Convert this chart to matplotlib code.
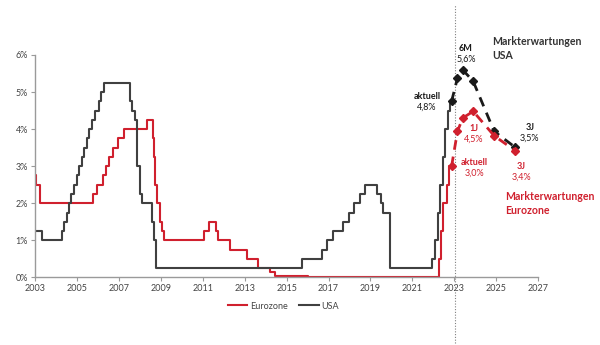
import matplotlib
matplotlib.use("Agg")
import matplotlib.pyplot as plt
from matplotlib.lines import Line2D

plt.rcParams["font.family"] = ["Lato", "DejaVu Sans"]

# Leitzinsen (Stufen), Jahr als Dezimalzahl
usa_jahre = [2003.0, 2003.32, 2004.31, 2004.40, 2004.51, 2004.62, 2004.72, 2004.86,
             2004.99, 2005.12, 2005.23, 2005.36, 2005.47, 2005.60, 2005.72, 2005.87,
             2006.03, 2006.16, 2006.31, 2007.54, 2007.65, 2007.75, 2007.86, 2007.99,
             2008.10, 2008.57, 2008.66, 2008.75, 2015.72, 2016.70, 2016.94, 2017.21,
             2017.71, 2017.98, 2018.22, 2018.49, 2018.73, 2019.33, 2019.49, 2019.60,
             2019.94, 2021.93, 2022.09, 2022.20, 2022.31, 2022.44, 2022.55, 2022.68,
             2022.78, 2022.87]
usa_zins = [1.25, 1.0, 1.25, 1.5, 1.75, 2.0, 2.25, 2.5,
            2.75, 3.0, 3.25, 3.5, 3.75, 4.0, 4.25, 4.5,
            4.75, 5.0, 5.25, 4.75, 4.5, 4.25, 3.0, 2.25,
            2.0, 1.5, 1.0, 0.25, 0.5, 0.75, 1.0, 1.25,
            1.5, 1.75, 2.0, 2.25, 2.5, 2.25, 2.0, 1.75,
            0.25, 0.5, 1.0, 1.75, 2.5, 3.25, 4.0, 4.5,
            4.75, 4.75]

ez_jahre = [2003.0, 2003.04, 2003.24, 2005.76, 2005.98, 2006.23, 2006.39, 2006.55,
            2006.74, 2006.98, 2007.26, 2008.34, 2008.61, 2008.67, 2008.74, 2008.83,
            2008.98, 2009.04, 2009.13, 2011.05, 2011.32, 2011.65, 2011.73, 2012.29,
            2013.12, 2013.63, 2014.22, 2014.46, 2016.0, 2022.25, 2022.36, 2022.47,
            2022.63, 2022.76, 2022.87]
ez_zins = [2.75, 2.5, 2.0, 2.25, 2.5, 2.75, 3.0, 3.25,
           3.5, 3.75, 4.0, 4.25, 3.75, 3.25, 2.5, 2.0,
           1.5, 1.25, 1.0, 1.25, 1.5, 1.25, 1.0, 0.75,
           0.5, 0.25, 0.15, 0.05, 0.0, 0.5, 1.25, 2.0,
           2.5, 3.0, 3.0]

# Markterwartungen: aktuell, 3M, 6M, 1J, 2J, 3J
prognose_jahre = [2022.87, 2023.15, 2023.4, 2023.9, 2024.9, 2025.9]
usa_prognose = [4.75, 5.38, 5.60, 5.29, 3.94, 3.51]
ez_prognose = [3.0, 3.94, 4.30, 4.48, 3.82, 3.42]

x_ticks = list(range(2003, 2028, 2))
y_ticks = [0, 1, 2, 3, 4, 5, 6]
y_labels = ["0%", "1%", "2%", "3%", "4%", "5%", "6%"]

ROT = "#d0202e"
GRAU = "#404040"
SCHWARZ = "#1a1a1a"
ACHSE = "#9a9a9a"

fig = plt.figure(figsize=(6, 3.45), dpi=100)
ax = fig.add_axes([0.0583, 0.196, 0.8387, 0.6446])

ax.plot(ez_jahre, ez_zins, drawstyle="steps-post", color=ROT, lw=1.5)
ax.plot(usa_jahre, usa_zins, drawstyle="steps-post", color=GRAU, lw=1.5)

ax.plot(prognose_jahre, usa_prognose, color=SCHWARZ, lw=2.0, dashes=(3.5, 2.5),
        marker="D", ms=4.5, zorder=4)
ax.plot(prognose_jahre, ez_prognose, color=ROT, lw=2.0, dashes=(3.5, 2.5),
        marker="D", ms=4.5, zorder=4)

ax.axvline(2023.03, ymin=-0.296, ymax=1.225, color="#808080", lw=0.8,
           ls=(0, (1, 1.5)), clip_on=False)

ax.set_xlim(2003, 2027)
ax.set_ylim(0, 6)
ax.set_xticks(x_ticks)
ax.set_yticks(y_ticks)
ax.set_yticklabels(y_labels)
ax.tick_params(labelsize=6.5, colors=ACHSE, labelcolor="#444444", length=3, width=0.8, pad=2)
for s in ["top", "right"]:
    ax.spines[s].set_visible(False)
for s in ["left", "bottom"]:
    ax.spines[s].set_color(ACHSE)
    ax.spines[s].set_linewidth(1.0)


def beschriftung(x, y, kopf, wert, farbe, ha="center"):
    ax.text(x, y, kopf, ha=ha, va="top", fontsize=6.5, fontweight="bold", color=farbe)
    ax.text(x, y - 0.28, wert, ha=ha, va="top", fontsize=6.5, color=farbe)


beschriftung(2023.55, 6.3, "6M", "5,6%", SCHWARZ)
beschriftung(2021.7, 5.0, "aktuell", "4,8%", SCHWARZ)
beschriftung(2026.6, 4.17, "3J", "3,5%", SCHWARZ)
beschriftung(2023.94, 4.14, "1J", "4,5%", ROT)
beschriftung(2023.94, 3.22, "aktuell", "3,0%", ROT)
beschriftung(2026.2, 3.11, "3J", "3,4%", ROT)

ax.text(2024.8, 6.5, "Markterwartungen\nUSA", ha="left", va="top", fontsize=7.6,
        fontweight="bold", color="#333333", linespacing=1.3)
ax.text(2025.42, 2.32, "Markterwartungen\nEurozone", ha="left", va="top", fontsize=7.6,
        fontweight="bold", color=ROT, linespacing=1.3)

handles = [Line2D([], [], color=ROT, lw=1.5), Line2D([], [], color=GRAU, lw=1.5)]
fig.legend(handles, ["Eurozone", "USA"], loc="center", bbox_to_anchor=(0.472, 0.113),
           ncol=2, frameon=False, fontsize=6.5, handlelength=2.2, handletextpad=0.3,
           columnspacing=1.2, labelcolor="#444444")

fig.savefig("out.png", dpi=100)
plt.close(fig)
